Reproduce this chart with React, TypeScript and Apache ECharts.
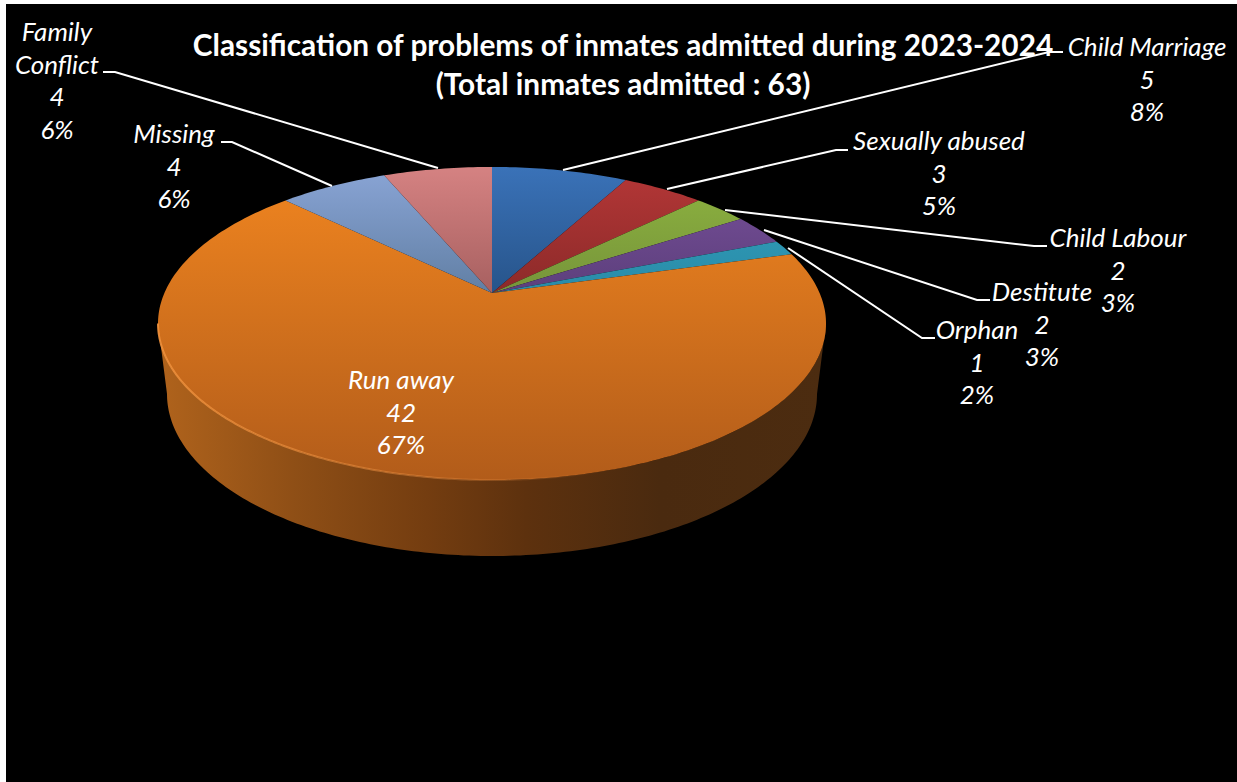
import React, { useEffect, useRef } from "react";
import * as echarts from "echarts";

const categories = ["Child Marriage", "Sexually abused", "Child Labour", "Destitute", "Orphan", "Run away", "Missing", "Family\nConflict"];
const values = [5, 3, 2, 2, 1, 42, 4, 4];
const percents = ["8%", "5%", "3%", "3%", "2%", "67%", "6%", "6%"];
const titleLines = ["Classification of problems of inmates admitted during 2023-2024", "(Total inmates admitted : 63)"];

// colours at the far rim of the pie and at the apex height
const sliceTop = ["#3a72b8", "#b53737", "#8fb540", "#7a519c", "#31a3bf", "#ea811f", "#8aa5d6", "#d58282"];
const sliceBottom = ["#27548a", "#8c2a29", "#76943a", "#5c3f7c", "#2a8ba8", "#b25c1a", "#617fa4", "#a76060"];

// label centre x and y of first line
const labelAnchor: number[][] = [[1147, 46], [939, 140], [1118, 237], [1042, 291], [977, 329], [401, 379], [174, 133], [57, 31]];
const leaders: number[][][] = [
  [[1063, 52], [1049, 52], [563, 170]],
  [[848, 150], [836, 150], [667, 189]],
  [[1047, 246], [1034, 246], [725, 210]],
  [[990, 300], [977, 300], [764, 230]],
  [[935, 338], [922, 338], [788, 248]],
  [],
  [[221, 142], [232, 142], [332, 186]],
  [[103, 72], [115, 72], [438, 168]],
];

const LINE_H = 32.5;
const APEX = { x: 492, y: 293 };
const A = 327.6, B = 150.6, K = 0.195;
const TOP_ELL = { cx: 492, cy: 323.5, rx: 334, ry: 156.5 };
const BOT_ELL = { cx: 492, cy: 394, rx: 325, ry: 162 };

const project = (deg: number): number[] => {
  const t = (deg * Math.PI) / 180;
  const sx = Math.sin(t), cy = Math.cos(t);
  const d = 1 + K * cy;
  return [APEX.x + (A * sx) / d, APEX.y - (B * cy) / d];
};

const total = values.reduce((a, b) => a + b, 0);
const startAngle = (i: number) => (values.slice(0, i).reduce((a, b) => a + b, 0) / total) * 360;

const ellipseArc = (e: typeof TOP_ELL, from: number, to: number): number[][] => {
  const out: number[][] = [];
  const n = 180;
  for (let i = 0; i <= n; i++) {
    const t = ((from + ((to - from) * i) / n) * Math.PI) / 180;
    out.push([e.cx + e.rx * Math.cos(t), e.cy + e.ry * Math.sin(t)]);
  }
  return out;
};

const vGrad = (y: number, y2: number, a: string, b: string) => ({
  type: "linear", x: 0, y, x2: 0, y2, global: true,
  colorStops: [{ offset: 0, color: a }, { offset: 1, color: b }],
});

export default function App() {
  const ref = useRef<HTMLDivElement>(null);
  useEffect(() => {
    const chart = echarts.init(ref.current!, undefined, { renderer: "svg" });
    const font = "Lato, sans-serif";
    chart.setOption({
      animation: false,
      backgroundColor: "#ffffff",
      graphic: [
        { type: "rect", z: 0, shape: { x: 6, y: 4, width: 1231, height: 778 }, style: { fill: "#000000" } },
      ],
      title: {
        text: titleLines.join("\n"),
        left: 618,
        top: 20,
        textAlign: "center",
        z: 6,
        textStyle: { color: "#ffffff", fontFamily: font, fontWeight: "bold", fontSize: 29.8, lineHeight: 39 },
      },
      series: [
        {
          type: "custom",
          name: "side",
          coordinateSystem: "none",
          z: 2,
          silent: true,
          data: [values[5]],
          renderItem: () => {
            const top = ellipseArc(TOP_ELL, 0, 180);
            const bot = ellipseArc(BOT_ELL, 180, 0);
            return {
              type: "polygon",
              shape: { points: top.concat(bot) },
              style: {
                fill: {
                  type: "linear", x: 159, y: 0, x2: 827, y2: 0, global: true,
                  colorStops: [
                    { offset: 0, color: "#b0631c" },
                    { offset: 0.2, color: "#8f4f16" },
                    { offset: 0.4, color: "#743d10" },
                    { offset: 0.55, color: "#5d310e" },
                    { offset: 0.75, color: "#4a2a0f" },
                    { offset: 1, color: "#4c2c10" },
                  ],
                },
              },
            };
          },
        },
        {
          type: "custom",
          name: "slices",
          coordinateSystem: "none",
          z: 3,
          silent: true,
          data: categories.map((name, i) => ({ name, value: values[i] })),
          renderItem: (params: any) => {
            const i = params.dataIndex;
            const a0 = startAngle(i);
            const a1 = a0 + (values[i] / total) * 360;
            const n = Math.max(4, Math.ceil(a1 - a0));
            const pts: number[][] = [[APEX.x, APEX.y]];
            for (let k = 0; k <= n; k++) pts.push(project(a0 + ((a1 - a0) * k) / n));
            const fill = i === 5 ? vGrad(200, 480, sliceTop[i], sliceBottom[i]) : vGrad(167, 293, sliceTop[i], sliceBottom[i]);
            return { type: "polygon", shape: { points: pts }, style: { fill } };
          },
        },
        {
          type: "custom",
          name: "rim",
          coordinateSystem: "none",
          z: 4,
          silent: true,
          data: [values[5]],
          renderItem: () => ({
            type: "polyline",
            shape: { points: ellipseArc(TOP_ELL, 180, 70) },
            style: {
              fill: "none",
              lineWidth: 2,
              stroke: {
                type: "linear", x: 159, y: 0, x2: 600, y2: 0, global: true,
                colorStops: [
                  { offset: 0, color: "rgba(240,145,60,0.9)" },
                  { offset: 0.6, color: "rgba(225,135,60,0.5)" },
                  { offset: 1, color: "rgba(225,135,60,0)" },
                ],
              },
            },
          }),
        },
        {
          type: "custom",
          name: "labels",
          coordinateSystem: "none",
          z: 5,
          silent: true,
          data: categories.map((name, i) => ({ name, value: values[i] })),
          renderItem: (params: any) => {
            const i = params.dataIndex;
            const lines = categories[i].split("\n").concat([String(values[i]), percents[i]]);
            const [cx, y0] = labelAnchor[i];
            const children: any[] = lines.map((t, k) => ({
              type: "text",
              style: {
                x: cx, y: y0 + k * LINE_H, text: t, fill: "#ffffff",
                font: `italic 400 26px ${font}`,
                align: "center", verticalAlign: "middle",
              },
            }));
            if (leaders[i].length) {
              children.unshift({
                type: "polyline",
                shape: { points: leaders[i] },
                style: { stroke: "#ffffff", lineWidth: 2, fill: "none" },
              });
            }
            return { type: "group", children };
          },
        },
      ],
    });
    return () => chart.dispose();
  }, []);
  return <div ref={ref} style={{ position: "fixed", left: 0, top: 0, width: 1237, height: 782 }} />;
}
